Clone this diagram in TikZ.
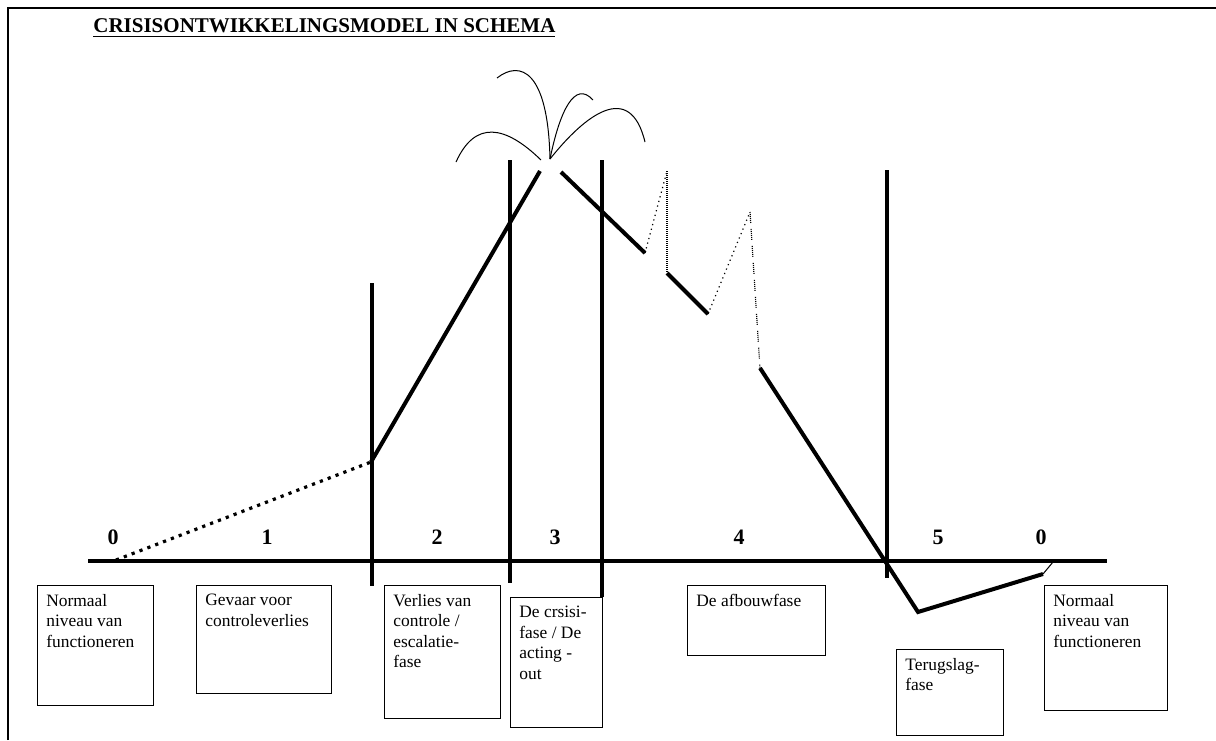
\documentclass[tikz,border=0pt]{standalone}
\usepackage{fontspec}
\setmainfont{Liberation Serif}
\usetikzlibrary{calc}
\begin{document}
\begin{tikzpicture}[x=0.5pt,y=-0.5pt,
  frameline/.style={line width=1pt},
  heavy/.style={line width=2pt},
  divider/.style={line width=2pt},
  thinline/.style={line width=0.5pt},
  bigdots/.style={line width=1.6pt, dash pattern=on 1.6pt off 2.6pt},
  sparsedots/.style={line width=0.6pt, dash pattern=on 0.6pt off 1.8pt},
  densedots/.style={line width=0.6pt, dash pattern=on 0.5pt off 0.5pt},
  boxst/.style={draw, line width=0.6pt, inner sep=0pt, anchor=north west},
  boxtxt/.style={anchor=north west, align=left, inner sep=0pt, font=\fontsize{8.7}{10.2}\selectfont},
  num/.style={font=\bfseries\fontsize{11}{12}\selectfont},
  ttl/.style={font=\bfseries\fontsize{10.5}{12}\selectfont, anchor=west, inner sep=0pt}]
\useasboundingbox (0,0) rectangle (1216,740);
% frame
\draw[frameline] (8,740) -- (8,8) -- (1216,8);
% title
\node[ttl] (title) at (93,28) {\underline{CRISISONTWIKKELINGSMODEL IN SCHEMA}};
% axis
\coordinate (axL) at (88,561);
\coordinate (axR) at (1107,561);
\draw[divider] (axL) -- (axR);
% vertical dividers
\coordinate (v1t) at (372,283); \coordinate (v1b) at (372,586);
\coordinate (v2t) at (510,160); \coordinate (v2b) at (510,583);
\coordinate (v3t) at (602,160); \coordinate (v3b) at (602,597);
\coordinate (v4t) at (887,170); \coordinate (v4b) at (887,578);
\draw[divider] (v1t) -- (v1b);
\draw[divider] (v2t) -- (v2b);
\draw[divider] (v3t) -- (v3b);
\draw[divider] (v4t) -- (v4b);
% phase numbers
\node[num] (n0a) at (113,537) {0};
\node[num] (n1) at (267,537) {1};
\node[num] (n2) at (437,537) {2};
\node[num] (n3) at (555,537) {3};
\node[num] (n4) at (739,537) {4};
\node[num] (n5) at (938,537) {5};
\node[num] (n0b) at (1041,537) {0};
% curve points
\coordinate (p0) at (116,560);
\coordinate (p1) at (371,462);
\coordinate (p2) at (540,171);
\coordinate (p3) at (561,172);
\coordinate (p4) at (645,253);
\coordinate (p5) at (667,171);
\coordinate (p6) at (667,273);
\coordinate (p7) at (708,314);
\coordinate (p8) at (750,212);
\coordinate (p9) at (760,368);
\coordinate (p10) at (918,612);
\coordinate (p11) at (1043,574);
\coordinate (p12) at (1053,562);
\draw[bigdots] (p0) -- (p1);
\draw[heavy] (p1) -- (p2);
\draw[heavy] (p3) -- (p4);
\draw[sparsedots] (p4) -- (p5);
\draw[densedots] (p5) -- (p6);
\draw[heavy] (p6) -- (p7);
\draw[sparsedots] (p7) -- (p8);
\draw[densedots, dash pattern=on 0.5pt off 0.5pt on 0.5pt off 0.5pt on 0.5pt off 0.5pt on 0.5pt off 0.5pt on 0.5pt off 0.5pt on 0.5pt off 3pt] (p8) -- (p9);
\draw[heavy, line join=miter] (p9) -- (p10) -- (p11);
\draw[thinline] (p11) -- (p12);
% fireworks
\coordinate (fw) at (550,159);
\draw[thinline] (456,162) .. controls (475,120) and (505,125) .. (541,160);
\draw[thinline] (497,78) .. controls (520,60) and (548,70) .. (fw);
\draw[thinline] (fw) .. controls (560,110) and (575,80) .. (593,100);
\draw[thinline] (fw) .. controls (585,115) and (630,80) .. (645,142);
% boxes
\node[boxst, minimum width=58pt, minimum height=60pt] (b1) at (37,585) {};
\node[boxtxt] (t1) at ($(b1.north west)+(9,9)$) {Normaal\\niveau van\\functioneren};
\node[boxst, minimum width=67.5pt, minimum height=54pt] (b2) at (196,585) {};
\node[boxtxt] (t2) at ($(b2.north west)+(9,9)$) {Gevaar voor\\controleverlies};
\node[boxst, minimum width=58pt, minimum height=66.5pt] (b3) at (384,585) {};
\node[boxtxt] (t3) at ($(b3.north west)+(9,9)$) {Verlies van\\controle /\\escalatie-\\fase};
\node[boxst, minimum width=46pt, minimum height=65pt] (b4) at (510,597) {};
\node[boxtxt] (t4) at ($(b4.north west)+(9,9)$) {De crsisi-\\fase / De\\acting -\\out};
\node[boxst, minimum width=69pt, minimum height=35pt] (b5) at (687,585) {};
\node[boxtxt] (t5) at ($(b5.north west)+(9,9)$) {De afbouwfase};
\node[boxst, minimum width=53.5pt, minimum height=43pt] (b6) at (896,649) {};
\node[boxtxt] (t6) at ($(b6.north west)+(9,9)$) {Terugslag-\\fase};
\node[boxst, minimum width=61.5pt, minimum height=62.5pt] (b7) at (1044,585) {};
\node[boxtxt] (t7) at ($(b7.north west)+(9,9)$) {Normaal\\niveau van\\functioneren};
\end{tikzpicture}
\end{document}
